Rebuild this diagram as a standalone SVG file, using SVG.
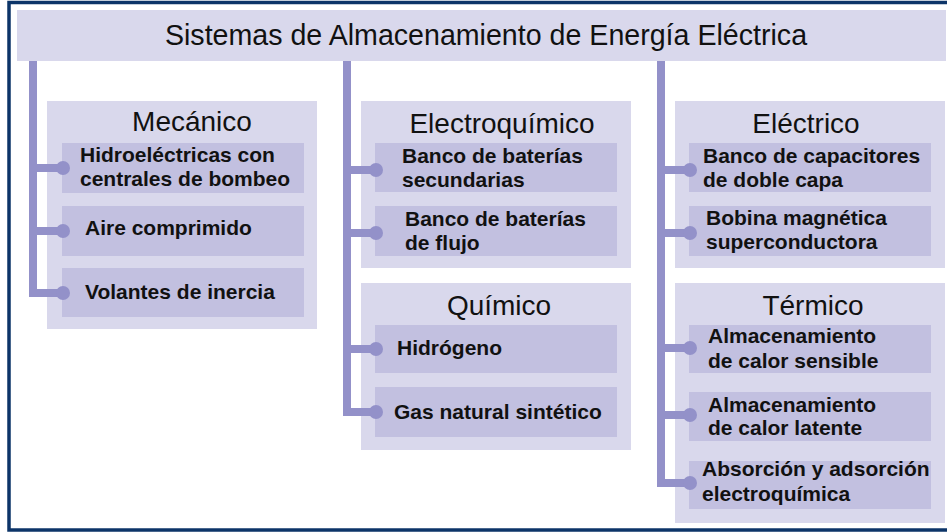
<svg xmlns="http://www.w3.org/2000/svg" width="947" height="532" viewBox="0 0 947 532">
<style>
.panel{fill:#d9d8ec}
.item{fill:#c2c0e0}
.title{font-family:"Liberation Sans",Arial,sans-serif;font-size:28.6px;fill:#111;text-anchor:middle}
.head{font-family:"Liberation Sans",Arial,sans-serif;font-size:28px;fill:#111;text-anchor:middle}
.lbl{font-family:"Liberation Sans",Arial,sans-serif;font-size:21px;font-weight:bold;fill:#111}
.conn{fill:none;stroke:#9391c9;stroke-width:8;stroke-linejoin:miter}
.dot{fill:#9391c9}
</style>
<rect x="0" y="0" width="947" height="532" fill="#ffffff"/>
<rect x="9" y="2.5" width="960" height="527.5" fill="none" stroke="#0c3468" stroke-width="3.5"/>
<g id="title">
<rect x="17" y="10" width="929" height="51" class="panel"/>
<text x="486" y="45" class="title">Sistemas de Almacenamiento de Energía Eléctrica</text>
</g>
<g id="mecanico">
<rect x="47" y="101" width="270" height="228" class="panel"/>
<text x="192" y="131" class="head">Mecánico</text>
<rect x="62" y="143" width="242" height="50" class="item"/>
<text x="80" y="162" class="lbl">Hidroeléctricas con</text>
<text x="80" y="186" class="lbl">centrales de bombeo</text>
<rect x="62" y="206" width="242" height="50" class="item"/>
<text x="85" y="235" class="lbl">Aire comprimido</text>
<rect x="62" y="268" width="242" height="49" class="item"/>
<text x="85" y="299" class="lbl">Volantes de inercia</text>
</g>
<g id="electroquimico">
<rect x="361" y="101" width="270" height="167" class="panel"/>
<text x="502" y="133" class="head">Electroquímico</text>
<rect x="375" y="143" width="242" height="49" class="item"/>
<text x="402" y="163" class="lbl">Banco de baterías</text>
<text x="402" y="187" class="lbl">secundarias</text>
<rect x="375" y="206" width="242" height="50" class="item"/>
<text x="405" y="226" class="lbl">Banco de baterías</text>
<text x="405" y="250" class="lbl">de flujo</text>
</g>
<g id="quimico">
<rect x="361" y="283" width="270" height="167" class="panel"/>
<text x="499" y="315" class="head">Químico</text>
<rect x="375" y="325" width="242" height="48" class="item"/>
<text x="397" y="355" class="lbl">Hidrógeno</text>
<rect x="375" y="387" width="242" height="50" class="item"/>
<text x="394" y="419" class="lbl">Gas natural sintético</text>
</g>
<g id="electrico">
<rect x="675" y="101" width="270" height="167" class="panel"/>
<text x="806" y="133" class="head">Eléctrico</text>
<rect x="689" y="143" width="242" height="49" class="item"/>
<text x="703" y="163" class="lbl">Banco de capacitores</text>
<text x="703" y="187" class="lbl">de doble capa</text>
<rect x="689" y="206" width="242" height="50" class="item"/>
<text x="706" y="225" class="lbl">Bobina magnética</text>
<text x="706" y="249" class="lbl">superconductora</text>
</g>
<g id="termico">
<rect x="675" y="283" width="270" height="240" class="panel"/>
<text x="813" y="315" class="head">Térmico</text>
<rect x="689" y="325" width="242" height="48" class="item"/>
<text x="708" y="343" class="lbl">Almacenamiento</text>
<text x="708" y="368" class="lbl">de calor sensible</text>
<rect x="689" y="392" width="242" height="49" class="item"/>
<text x="708" y="412" class="lbl">Almacenamiento</text>
<text x="708" y="435" class="lbl">de calor latente</text>
<rect x="689" y="461" width="242" height="48" class="item"/>
<text x="702" y="476" class="lbl">Absorción y adsorción</text>
<text x="702" y="501" class="lbl">electroquímica</text>
</g>
<g id="connectors">
<path class="conn" d="M33,61 V293 H63 M33,168 H63 M33,231 H63"/>
<circle class="dot" cx="63" cy="168" r="7"/>
<circle class="dot" cx="63" cy="231" r="7"/>
<circle class="dot" cx="63" cy="293" r="7"/>
<path class="conn" d="M347,61 V412 H376 M347,170 H376 M347,233 H376 M347,349 H376"/>
<circle class="dot" cx="376" cy="170" r="7"/>
<circle class="dot" cx="376" cy="233" r="7"/>
<circle class="dot" cx="376" cy="349" r="7"/>
<circle class="dot" cx="376" cy="412" r="7"/>
<path class="conn" d="M661,61 V483 H690 M661,170 H690 M661,233 H690 M661,348 H690 M661,415 H690"/>
<circle class="dot" cx="690" cy="170" r="7"/>
<circle class="dot" cx="690" cy="233" r="7"/>
<circle class="dot" cx="690" cy="348" r="7"/>
<circle class="dot" cx="690" cy="415" r="7"/>
<circle class="dot" cx="690" cy="483" r="7"/>
</g>
</svg>
